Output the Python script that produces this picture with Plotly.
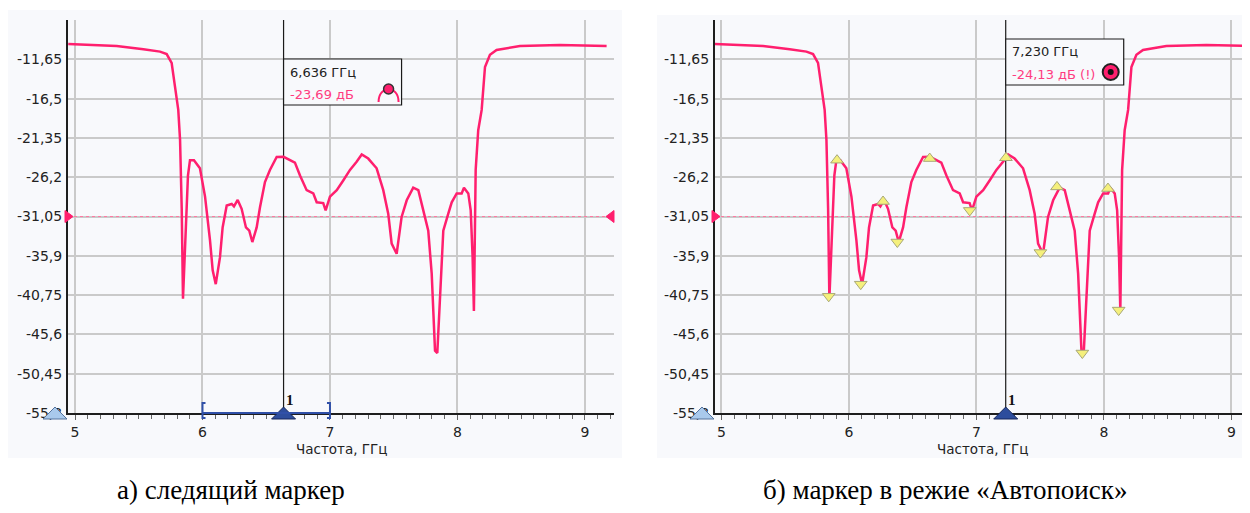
import plotly.graph_objects as go

# ---------------- data ----------------
freq_ghz = [4.947, 5.144, 5.327, 5.536, 5.667, 5.719, 5.758, 5.784, 5.810, 5.824,
            5.837, 5.847, 5.871, 5.886, 5.902, 5.933, 5.980, 6.020, 6.059, 6.080,
            6.104, 6.137, 6.158, 6.190, 6.229, 6.247, 6.276, 6.307, 6.341, 6.367,
            6.391, 6.425, 6.451, 6.490, 6.529, 6.582, 6.636, 6.678, 6.725, 6.765,
            6.817, 6.869, 6.896, 6.947, 6.966, 7.000, 7.053, 7.104, 7.157, 7.209,
            7.249, 7.300, 7.366, 7.418, 7.457, 7.484, 7.523, 7.562, 7.602, 7.653,
            7.693, 7.732, 7.771, 7.798, 7.824, 7.842, 7.863, 7.889, 7.928, 7.955,
            7.994, 8.033, 8.051, 8.085, 8.104, 8.119, 8.129, 8.143, 8.163, 8.190,
            8.216, 8.255, 8.307, 8.386, 8.490, 8.804, 9.170]
level_db = [-9.76, -9.92, -10.0, -10.4, -10.7, -11.0, -12.1, -15.0, -17.9, -21.6,
            -30.0, -41.2, -32.0, -26.0, -24.1, -24.1, -25.1, -28.6, -34.0, -37.7,
            -39.4, -36.1, -32.4, -29.7, -29.5, -29.8, -29.0, -30.1, -32.4, -32.8,
            -34.2, -32.4, -29.9, -26.8, -25.3, -23.7, -23.69, -24.0, -24.4, -26.0,
            -27.8, -28.2, -29.3, -29.4, -30.3, -28.6, -27.8, -26.6, -25.3, -24.3,
            -23.4, -23.9, -25.1, -27.8, -30.7, -34.4, -35.65, -31.1, -29.05, -27.5,
            -27.8, -30.3, -32.8, -38.1, -47.6, -47.9, -41.0, -32.8, -30.7, -29.3,
            -28.2, -28.2, -27.5, -28.2, -30.3, -36.1, -42.7, -25.3, -20.4, -17.9,
            -12.6, -11.1, -10.5, -10.3, -10.0, -9.9, -10.0]

# autosearch results (panel b)
peak_freq = [5.907, 6.268, 6.634, 7.232, 7.632, 8.032]
peak_db = [-24.1, -29.2, -23.9, -23.8, -27.4, -27.6]
dip_freq = [5.842, 6.093, 6.380, 6.948, 7.502, 7.831, 8.116]
dip_db = [-40.9, -39.4, -34.2, -30.3, -35.5, -47.9, -42.6]

x_ticks = [5, 6, 7, 8, 9]
x_labels = ["5", "6", "7", "8", "9"]
y_ticks = [-55.3, -50.45, -45.6, -40.75, -35.9, -31.05, -26.2, -21.35, -16.5, -11.65]
y_labels = ["-55,3", "-50,45", "-45,6", "-40,75", "-35,9", "-31,05", "-26,2", "-21,35", "-16,5", "-11,65"]
y_range = [-55.3, -6.8]

ref_level = -31.05
track_marker = (6.636, -23.69)
auto_marker = (7.230, -24.13)
track_span = (6.0, 7.0)

x_title = "Частота, ГГц"
captions = ["а) следящий маркер", "б) маркер в режие «Автопоиск»"]

# ---------------- style / page geometry ----------------
PAGE_W, PAGE_H = 1250, 513
OFF = 8                      # default page margin around the plot div
W, H = PAGE_W - OFF, PAGE_H - OFF
CURVE = "#ff1f6e"
TXT_PINK = "#ff3c80"
BG = "#f8f9fc"
GRID = "#cacaca"
AX = "#1e1e1e"
TICKFONT = dict(family="DejaVu Sans", size=14, color="#222")
BOXFONT = 13


def fx(p):
    return (p - OFF) / W


def fy(p):
    return 1 - (p - OFF) / H


def fmt(v, d):
    return f"{v:.{d}f}".replace(".", ",")


fig = go.Figure()

panels = [
    dict(xa="x", ya="y", xdom=[fx(68), fx(614)], xr=[4.945, 9.228],
         marker=track_marker, box_top=59, mode="track", bg=[7, 10, 622, 458]),
    dict(xa="x2", ya="y2", xdom=[fx(715), 1.0], xr=[4.95, 9.146],
         marker=auto_marker, box_top=39, mode="auto", bg=[657, 15, PAGE_W, 458]),
]

shapes = []
annotations = []

for i, p in enumerate(panels):
    xa, ya = p["xa"], p["ya"]
    fig.add_trace(go.Scatter(x=freq_ghz, y=level_db, mode="lines",
                             line=dict(color=CURVE, width=2.5),
                             xaxis=xa, yaxis=ya, showlegend=False, hoverinfo="skip"))
    axsfx = "" if i == 0 else "2"
    fig.layout["xaxis" + axsfx] = dict(
        domain=p["xdom"], range=p["xr"], anchor=ya, automargin=False,
        showline=True, linecolor=AX, linewidth=2,
        showgrid=True, gridcolor=GRID, gridwidth=1.5, zeroline=False,
        tickvals=x_ticks, ticktext=x_labels, ticks="outside", ticklen=5,
        tickcolor="#666", tickwidth=1, tickfont=TICKFONT,
        minor=dict(tick0=5, dtick=0.1, ticks="outside", ticklen=4,
                   tickcolor="#666", showgrid=False),
        fixedrange=True)
    fig.layout["yaxis" + axsfx] = dict(
        domain=[fy(413), fy(20)], range=y_range, anchor=xa, automargin=False,
        showline=True, linecolor=AX, linewidth=2,
        showgrid=True, gridcolor=GRID, gridwidth=1.5, zeroline=False,
        tickvals=y_ticks, ticktext=y_labels, ticks="outside", ticklen=1,
        tickcolor="rgba(0,0,0,0)", tickfont=TICKFONT, fixedrange=True)

    # panel background
    b = p["bg"]
    shapes.append(dict(type="rect", xref="paper", yref="paper", x0=fx(b[0]), x1=fx(b[2]),
                       y0=fy(b[3]), y1=fy(b[1]), fillcolor=BG, line=dict(width=0), layer="below"))

    # reference level line + end triangles
    shapes.append(dict(type="line", xref=xa, yref=ya, x0=p["xr"][0], x1=p["xr"][1],
                       y0=ref_level, y1=ref_level, line=dict(color="#ff7aa3", width=1, dash="dot"),
                       layer="between"))
    shapes.append(dict(type="path", xref=xa + " domain", yref=ya, xsizemode="pixel",
                       ysizemode="pixel", xanchor=0, yanchor=ref_level,
                       path="M -3,6 L -3,-6 L 5,0 Z", fillcolor=CURVE, line=dict(color=CURVE, width=1)))
    shapes.append(dict(type="path", xref=xa + " domain", yref=ya, xsizemode="pixel",
                       ysizemode="pixel", xanchor=1, yanchor=ref_level,
                       path="M 0,6 L 0,-6 L -8,0 Z", fillcolor=CURVE, line=dict(color=CURVE, width=1)))

    mf, mv = p["marker"]
    # marker vertical line
    shapes.append(dict(type="line", xref=xa, yref=ya, x0=mf, x1=mf, y0=y_range[0], y1=y_range[1],
                       line=dict(color="#1a1a1a", width=1.2), layer="between"))
    # readout box
    bt = p["box_top"]
    shapes.append(dict(type="rect", xref=xa, yref="paper", xsizemode="pixel", xanchor=mf,
                       x0=0, x1=118, y0=fy(bt + 46), y1=fy(bt),
                       fillcolor=BG, line=dict(color="#1a1a1a", width=1.2)))
    annotations.append(dict(xref=xa, yref="paper", x=mf, y=fy(bt + 13), xanchor="left",
                            yanchor="middle", xshift=4, showarrow=False,
                            text=f"{fmt(mf, 3)} ГГц",
                            font=dict(family="DejaVu Sans", size=BOXFONT, color="#222")))
    extra = "" if p["mode"] == "track" else " (!)"
    annotations.append(dict(xref=xa, yref="paper", x=mf, y=fy(bt + 35), xanchor="left",
                            yanchor="middle", xshift=4, showarrow=False,
                            text=f"{fmt(mv, 2)} дБ{extra}",
                            font=dict(family="DejaVu Sans", size=BOXFONT, color=TXT_PINK)))
    if p["mode"] == "track":
        ic_y = fy(bt + 30)
        shapes.append(dict(type="path", xref=xa, yref="paper", xsizemode="pixel", ysizemode="pixel",
                           xanchor=mf, yanchor=ic_y, path="M 95,-13 C 95,4 115,4 115,-13",
                           line=dict(color=CURVE, width=2)))
        shapes.append(dict(type="circle", xref=xa, yref="paper", xsizemode="pixel", ysizemode="pixel",
                           xanchor=mf, yanchor=ic_y, x0=100, x1=110, y0=-5, y1=5,
                           fillcolor=CURVE, line=dict(color="#333", width=1.5)))
    else:
        ic_y = fy(bt + 33)
        shapes.append(dict(type="circle", xref=xa, yref="paper", xsizemode="pixel", ysizemode="pixel",
                           xanchor=mf, yanchor=ic_y, x0=97, x1=113, y0=-8, y1=8,
                           fillcolor=CURVE, line=dict(color="#222", width=2)))
        shapes.append(dict(type="circle", xref=xa, yref="paper", xsizemode="pixel", ysizemode="pixel",
                           xanchor=mf, yanchor=ic_y, x0=102, x1=108, y0=-3, y1=3,
                           fillcolor="#111", line=dict(color="#111", width=0)))

    # sweep start marker (light) and marker "1" (dark) on the bottom axis
    shapes.append(dict(type="path", xref=xa + " domain", yref=ya + " domain", xsizemode="pixel",
                       ysizemode="pixel", xanchor=0, yanchor=0, path="M -25,-6 L -1,-6 L -13,6 Z",
                       fillcolor="#a9c9ec", line=dict(color="#55739c", width=1)))
    shapes.append(dict(type="path", xref=xa, yref=ya + " domain", xsizemode="pixel", ysizemode="pixel",
                       xanchor=mf, yanchor=0, path="M -12,-6 L 12,-6 L 0,6 Z",
                       fillcolor="#2d4d9d", line=dict(color="#16275a", width=1)))
    annotations.append(dict(xref=xa, yref=ya, x=mf, y=y_range[0], xanchor="left", yanchor="middle",
                            xshift=0, yshift=13, showarrow=False, text="<b>1</b>",
                            font=dict(family="Liberation Serif", size=15, color="#111")))

    # axis title and caption
    annotations.append(dict(xref=xa + " domain", yref="paper", x=0.5, y=fy(449), showarrow=False,
                            xanchor="center", yanchor="middle", text=x_title,
                            font=dict(family="DejaVu Sans", size=13.5, color="#222")))
    cap_x = [231, 945][i]
    annotations.append(dict(xref="paper", yref="paper", x=fx(cap_x), y=fy(490), showarrow=False,
                            xanchor="center", yanchor="middle", text=captions[i],
                            font=dict(family="Liberation Serif", size=27, color="#000")))

# tracking span bracket (panel a)
s0, s1 = track_span
BR = "#3050a8"
shapes.append(dict(type="line", xref="x", yref="y domain", x0=s0, x1=s1, y0=0, y1=0,
                   line=dict(color=BR, width=2)))
shapes.append(dict(type="path", xref="x", yref="y domain", xsizemode="pixel", ysizemode="pixel",
                   xanchor=s0, yanchor=0, path="M 3,10 L 0,10 L 0,-5 L 3,-5",
                   line=dict(color=BR, width=2)))
shapes.append(dict(type="path", xref="x", yref="y domain", xsizemode="pixel", ysizemode="pixel",
                   xanchor=s1, yanchor=0, path="M -3,10 L 0,10 L 0,-5 L -3,-5",
                   line=dict(color=BR, width=2)))

# autosearch markers (panel b)
fig.add_trace(go.Scatter(x=peak_freq, y=peak_db, mode="markers", xaxis="x2", yaxis="y2",
                         marker=dict(symbol="triangle-up", size=11, color="#f5f07c",
                                     line=dict(color="#a8a878", width=1)),
                         showlegend=False, hoverinfo="skip", cliponaxis=False))
fig.add_trace(go.Scatter(x=dip_freq, y=dip_db, mode="markers", xaxis="x2", yaxis="y2",
                         marker=dict(symbol="triangle-down", size=11, color="#f5f07c",
                                     line=dict(color="#a8a878", width=1)),
                         showlegend=False, hoverinfo="skip", cliponaxis=False))

fig.update_layout(width=W, height=H, autosize=False,
                  margin=dict(l=0, r=0, t=0, b=0, pad=0, autoexpand=False),
                  paper_bgcolor="#ffffff", plot_bgcolor=BG, showlegend=False,
                  shapes=shapes, annotations=annotations)

fig.write_html("out.html", config={"displayModeBar": False})
